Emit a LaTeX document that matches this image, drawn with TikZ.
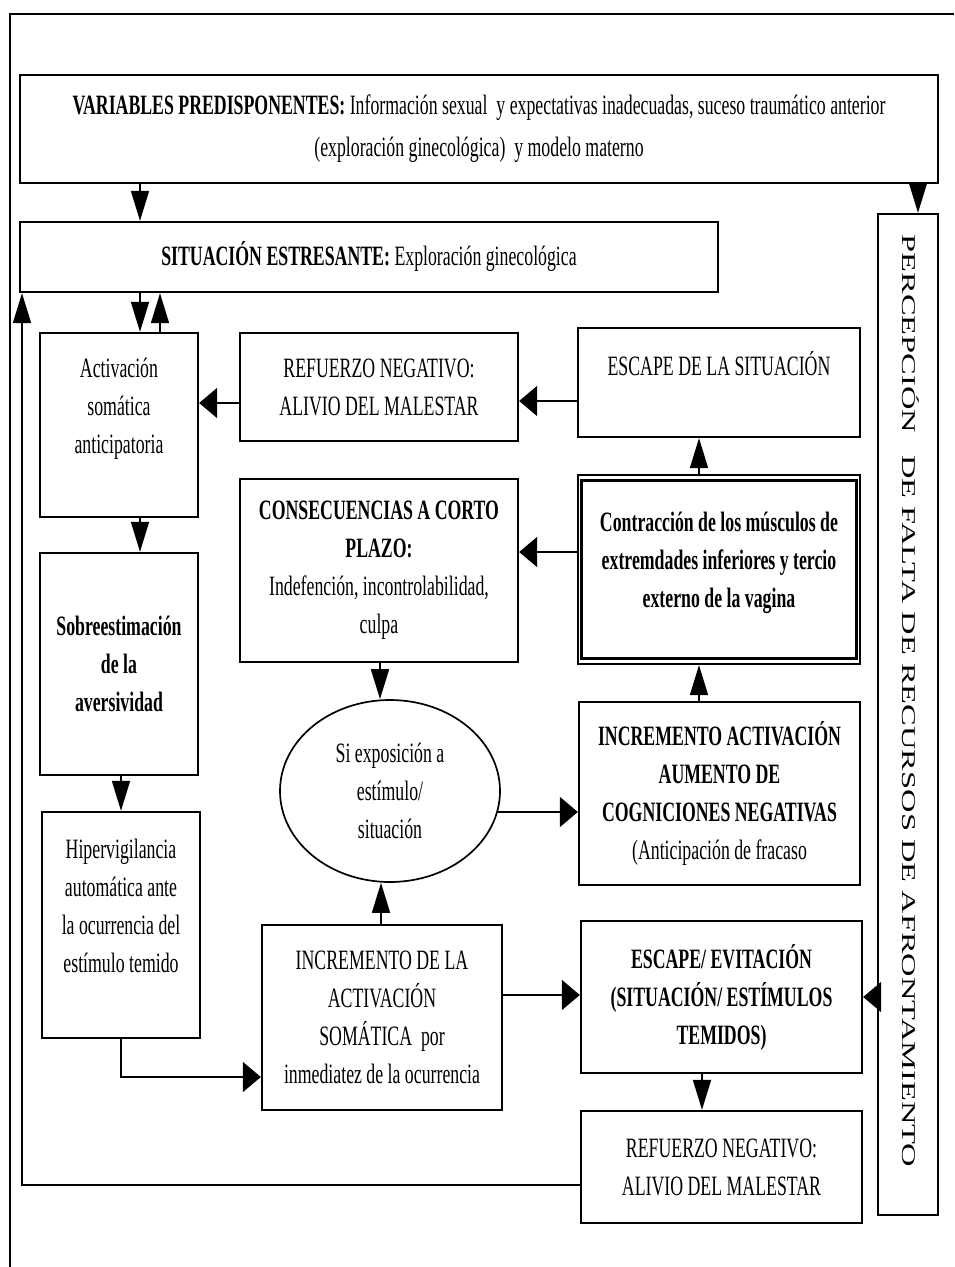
\documentclass[tikz,border=0pt]{standalone}
\usepackage{fontspec}
\setmainfont{Liberation Serif}
\newfontfamily\cond[FakeStretch=0.635]{Liberation Serif}
\usetikzlibrary{arrows.meta,calc,shapes.geometric}
\tikzset{
  box/.style={draw, line width=2.3pt, rectangle, inner sep=0pt, align=center,
    font=\cond\fontsize{28}{38}\selectfont},
  oval/.style={draw, line width=1.7pt, ellipse, inner sep=0pt, align=center,
    font=\cond\fontsize{28}{38}\selectfont},
  varr/.style={line width=1.7pt, -{Triangle[length=30pt,width=18pt]}},
  harr/.style={line width=1.7pt, -{Triangle[length=18pt,width=30pt]}},
  frameline/.style={line width=1.6pt},
  sidetext/.style={rotate=-90, inner sep=0pt, font=\fontsize{32.5}{32.5}\selectfont}
}
\begin{document}
\begin{tikzpicture}[x=1pt,y=-1pt]
\useasboundingbox (0,0) rectangle (954,1267);
\fill[white] (0,0) rectangle (954,1267);

% outer frame
\coordinate (ftl) at (10,14);
\coordinate (ftr) at (954,14);
\coordinate (fbl) at (10,1267);
\draw[frameline] (fbl) -- (ftl) -- (ftr);

% boxes
\node[box, minimum width=918pt, minimum height=108pt] (var) at (479,129)
  {\textbf{VARIABLES PREDISPONENTES:} Información sexual\ \ y expectativas inadecuadas, suceso traumático anterior\\[4pt](exploración ginecológica)\ \ y modelo materno};
\node[box, minimum width=698pt, minimum height=70pt] (sit) at (369,257)
  {\textbf{SITUACIÓN ESTRESANTE:} Exploración ginecológica};
\node[box, minimum width=60pt, minimum height=1001pt] (perc) at (908,714.5) {};
\node[sidetext] (perctext) at (911,701)
  {\scalebox{1}[0.6]{PERCEPCIÓN\hspace{14pt} DE FALTA DE RECURSOS DE AFRONTAMIENTO}};

\node[box, minimum width=158pt, minimum height=184pt] (act) at (119,425)
  {Activación\\somática\\anticipatoria\\\mbox{}};
\node[box, minimum width=278pt, minimum height=108pt] (ref1) at (379,387)
  {REFUERZO NEGATIVO:\\ALIVIO DEL MALESTAR};
\node[box, minimum width=282pt, minimum height=109pt] (esc) at (719,382.5)
  {ESCAPE DE LA SITUACIÓN\\\mbox{}};
\node[box, minimum width=278pt, minimum height=183pt] (cons) at (379,570.5)
  {\textbf{CONSECUENCIAS A CORTO}\\\textbf{PLAZO:}\\Indefención, incontrolabilidad,\\culpa};
\node[box, minimum width=282pt, minimum height=189pt] (contr) at (719,569.5)
  {\textbf{Contracción de los músculos de}\\\textbf{extremdades inferiores y tercio}\\\textbf{externo de la vagina}\\[-19pt]\mbox{}};
\draw[line width=2.8pt] ($(contr.north west)+(5,7)$) rectangle ($(contr.south east)+(-5,-7)$);
\node[box, minimum width=158pt, minimum height=222pt] (sobre) at (119,664)
  {\textbf{Sobreestimación}\\\textbf{de la}\\\textbf{aversividad}};
\node[box, minimum width=158pt, minimum height=226pt] (hiper) at (121,925)
  {Hipervigilancia\\automática ante\\la ocurrencia del\\estímulo temido\\\mbox{}};
\node[oval, minimum width=220pt, minimum height=182pt] (ell) at (390,791)
  {Si exposición a\\estímulo/\\situación};
\node[box, minimum width=281pt, minimum height=183pt] (iact) at (719.5,793.5)
  {\textbf{INCREMENTO ACTIVACIÓN}\\\textbf{AUMENTO DE}\\\textbf{COGNICIONES NEGATIVAS}\\(Anticipación de fracaso};
\node[box, minimum width=240pt, minimum height=185pt] (incr) at (382,1017.5)
  {INCREMENTO DE LA\\ACTIVACIÓN\\SOMÁTICA\ \ por\\inmediatez de la ocurrencia};
\node[box, minimum width=281pt, minimum height=152pt] (escev) at (721.5,997)
  {\textbf{ESCAPE/ EVITACIÓN}\\\textbf{(SITUACIÓN/ ESTÍMULOS}\\\textbf{TEMIDOS)}};
\node[box, minimum width=281pt, minimum height=112pt] (ref2) at (721.5,1167)
  {REFUERZO NEGATIVO:\\ALIVIO DEL MALESTAR};

% connectors
\draw[varr] (var.south -| 140,0) -- (sit.north -| 140,0);
\draw[varr] (var.south -| 918,0) -- (perc.north -| 918,0);
\draw[varr] (sit.south -| 140,0) -- (act.north -| 140,0);
\draw[varr] (act.north -| 160,0) -- (sit.south -| 160,0);
\draw[harr] (ref1.west |- 0,403) -- (act.east |- 0,403);
\draw[harr] (esc.west |- 0,401) -- (ref1.east |- 0,401);
\draw[varr] (contr.north -| 699,0) -- (esc.south -| 699,0);
\draw[harr] (contr.west |- 0,552) -- (cons.east |- 0,552);
\draw[varr] (act.south -| 140,0) -- (sobre.north -| 140,0);
\draw[varr] (sobre.south -| 121,0) -- (hiper.north -| 121,0);
\draw[varr] (cons.south -| 380,0) -- (ell.north -| 380,0);
\draw[varr] (incr.north -| 381,0) -- (ell.south -| 381,0);
\draw[harr, line width=1.2pt] (hiper.south -| 121,0) |- (incr.west |- 0,1077);
\draw[harr] (ell.-11) -- (ell.-11 -| iact.west);
\draw[varr] (iact.north -| 699,0) -- (contr.south -| 699,0);
\draw[harr] (incr.east |- 0,995) -- (escev.west |- 0,995);
\draw[harr] (perc.west |- 0,997) -- (escev.east |- 0,997);
\draw[varr] (escev.south -| 702,0) -- (ref2.north -| 702,0);
\draw[varr, line width=1.9pt] (ref2.west |- 0,1185) -| (sit.south -| 22,0);
\end{tikzpicture}
\end{document}
